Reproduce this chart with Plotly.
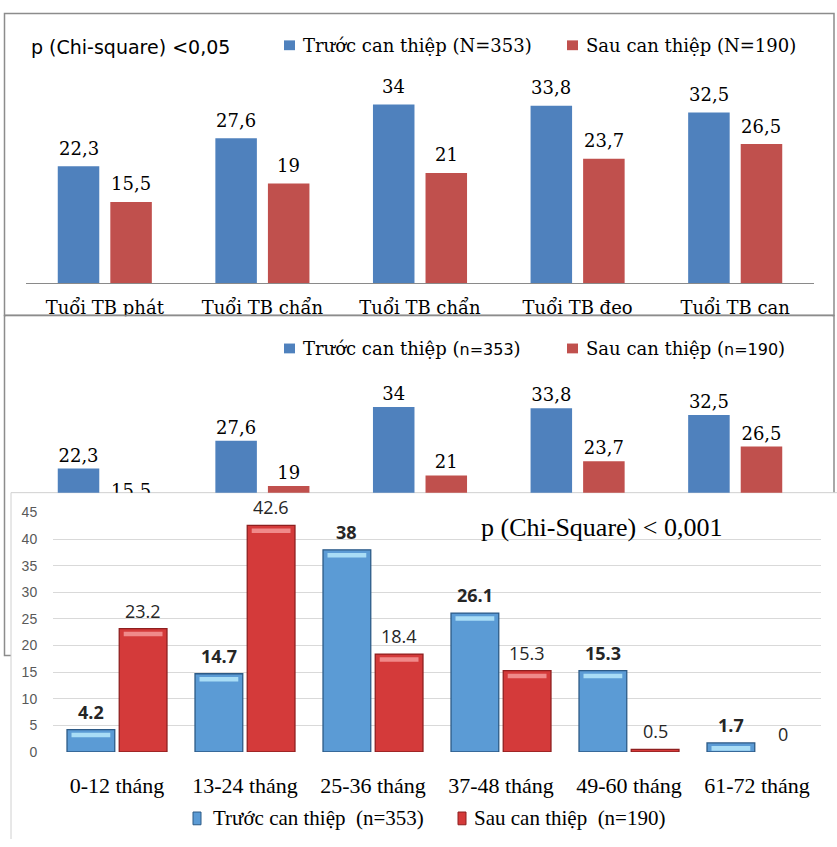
import plotly.graph_objects as go

W, H = 837, 847

# ---- Panels 1 & 2: mean ages (years), before / after the intervention ----
age_labels = ["Tuổi TB phát", "Tuổi TB chẩn", "Tuổi TB chẩn", "Tuổi TB đeo", "Tuổi TB can"]
age_before = [22.3, 27.6, 34.0, 33.8, 32.5]
age_after = [15.5, 19.0, 21.0, 23.7, 26.5]

# ---- Panel 3: distribution by age band (%) ----
band_labels = ["0-12 tháng", "13-24 tháng", "25-36 tháng", "37-48 tháng", "49-60 tháng", "61-72 tháng"]
band_before = [4.2, 14.7, 38.0, 26.1, 15.3, 1.7]
band_after = [23.2, 42.6, 18.4, 15.3, 0.5, 0.0]

BLUE1, RED1 = "#4F81BD", "#C0504D"
BLUE3, RED3 = "#5B9BD5", "#D43A3A"
BLUE3_EDGE, RED3_EDGE = "#2C5A86", "#8E1F1F"
BLUE3_SHINE, RED3_SHINE = "#A9DDF6", "#F08A8A"
SERIF_W = "DejaVu Serif"
SERIF_T = "Liberation Serif"
GRAY = "#8C8C8C"
SHEET_EDGE = "#D0D0D0"

# bar geometry (fraction of one category slot)
BW12, GAP12 = 0.2635, 0.07
BW3, GAP3 = 0.373, 0.035


def px(p):
    return p / W


def py(p):
    return 1 - p / H


def comma(v):
    return f"{v:g}".replace(".", ",")


fig = go.Figure()
annotations = []
shapes = []

pos12 = list(range(len(age_labels)))
pos3 = list(range(len(band_labels)))
off12 = {"b": -(BW12 + GAP12 / 2), "a": GAP12 / 2}
off3 = {"b": -(BW3 + GAP3 / 2), "a": GAP3 / 2}
f_val12 = dict(family=SERIF_W, size=18, color="#000000")

# panel 1 bars with value labels above
for key, vals, col in [("b", age_before, BLUE1), ("a", age_after, RED1)]:
    fig.add_trace(go.Bar(
        x=pos12, y=vals, xaxis="x", yaxis="y", width=BW12, offset=off12[key],
        marker=dict(color=col, line=dict(width=0)),
        showlegend=False, hoverinfo="skip",
    ))
    for i, v in zip(pos12, vals):
        annotations.append(dict(x=i + off12[key] + BW12 / 2, y=v, xref="x", yref="y",
                                text=comma(v), showarrow=False, yanchor="middle",
                                yshift=18, font=f_val12))

# panel 2 bars: value labels are bar text so they clip with the plot area
for key, vals, col in [("b", age_before, BLUE1), ("a", age_after, RED1)]:
    fig.add_trace(go.Bar(
        x=pos12, y=vals, xaxis="x2", yaxis="y2", width=BW12, offset=off12[key],
        marker=dict(color=col, line=dict(width=0)),
        text=[comma(v) for v in vals], textposition="outside",
        textfont=f_val12, cliponaxis=True,
        showlegend=False, hoverinfo="skip",
    ))

# panel 3 bars (with a glossy band near the top of each bar on an overlay axis)
for key, vals, col, edge, shine, wt in [
    ("b", band_before, BLUE3, BLUE3_EDGE, BLUE3_SHINE, "bold"),
    ("a", band_after, RED3, RED3_EDGE, RED3_SHINE, "normal"),
]:
    fig.add_trace(go.Bar(
        x=pos3, y=vals, xaxis="x3", yaxis="y3", width=BW3, offset=off3[key],
        marker=dict(color=col, line=dict(color=edge, width=[1.3 if v > 0 else 0 for v in vals])),
        showlegend=False, hoverinfo="skip",
    ))
    shine_base = [v - 1.45 if v > 1 else None for v in vals]
    shine_h = [0.85 if v > 1 else None for v in vals]
    fig.add_trace(go.Bar(
        x=pos3, y=shine_h, base=shine_base, xaxis="x4", yaxis="y4",
        width=BW3 - 0.07, offset=off3[key] + 0.035,
        marker=dict(color=shine, line=dict(width=0)),
        showlegend=False, hoverinfo="skip",
    ))
    for i, v in zip(pos3, vals):
        annotations.append(dict(x=i + off3[key] + BW3 / 2, y=v, xref="x3", yref="y3",
                                text=f"{v:g}", showarrow=False, yanchor="middle",
                                yshift=18,
                                font=dict(family="Open Sans", size=18, color="#262626",
                                          weight=wt)))

# vertical scale of panels 1/2: 5.36 px per year
s12 = 5.36
p1_zero, p1_top = 280.7, 60
p2_zero, p2_bot, p2_top = 589, 494, 340
p3_dom = [py(758.3), py(514.3)]
p3_x = [px(53), px(821)]

fig.update_layout(
    width=W, height=H, margin=dict(l=0, r=0, t=0, b=0),
    paper_bgcolor="white", plot_bgcolor="rgba(0,0,0,0)",
    barmode="group",
    xaxis=dict(domain=[px(26), px(814)], anchor="y", range=[-0.5, 4.5],
               tickmode="array", tickvals=pos12, ticktext=age_labels,
               tickfont=dict(family=SERIF_W, size=18, color="#000000"),
               ticks="outside", ticklen=8, tickcolor="rgba(0,0,0,0)",
               showline=True, linecolor="#8A8A8A", linewidth=1,
               showgrid=False, zeroline=False, fixedrange=True),
    yaxis=dict(domain=[py(p1_zero), py(p1_top)], anchor="x",
               range=[0, (p1_zero - p1_top) / s12], visible=False, fixedrange=True),
    xaxis2=dict(domain=[px(26), px(814)], anchor="y2", range=[-0.5, 4.5],
                showticklabels=False, showgrid=False, zeroline=False,
                showline=False, ticks="", fixedrange=True),
    yaxis2=dict(domain=[py(p2_bot), py(p2_top)], anchor="x2",
                range=[(p2_zero - p2_bot) / s12, (p2_zero - p2_top) / s12],
                visible=False, fixedrange=True),
    xaxis3=dict(domain=p3_x, anchor="y3", range=[-0.5, 5.5],
                tickmode="array", tickvals=pos3, ticktext=band_labels,
                tickfont=dict(family=SERIF_T, size=22, color="#000000"),
                ticks="outside", ticklen=14, tickcolor="rgba(0,0,0,0)",
                showline=False, showgrid=False, zeroline=False, fixedrange=True),
    yaxis3=dict(domain=p3_dom, anchor="x3", range=[0, 45],
                dtick=5, tick0=0, showgrid=True, gridcolor="#D9D9D9", gridwidth=1,
                zeroline=False, showline=False,
                tickfont=dict(family="Liberation Sans", size=14, color="#595959"),
                ticks="outside", ticklen=12, tickcolor="rgba(0,0,0,0)",
                fixedrange=True),
    xaxis4=dict(domain=p3_x, anchor="y4", overlaying="x3", range=[-0.5, 5.5],
                visible=False, fixedrange=True),
    yaxis4=dict(domain=p3_dom, anchor="x4", overlaying="y3", range=[0, 45],
                visible=False, fixedrange=True),
)

P = dict(xref="paper", yref="paper")
shapes += [
    # panel 1 frame
    dict(type="rect", layer="below", x0=px(4.5), x1=px(834), y0=py(313.5), y1=py(5.5),
         line=dict(color=GRAY, width=1.5), fillcolor="white", **P),
    # panel 2 frame
    dict(type="rect", layer="below", x0=px(4.5), x1=px(834), y0=py(660), y1=py(313.5),
         line=dict(color=GRAY, width=1.5), fillcolor="white", **P),
    # panel 3 sheet, laid over panel 2 and running off the page edges
    dict(type="rect", layer="below", x0=px(11), x1=1, y0=0, y1=py(494),
         line=dict(width=0), fillcolor="white", **P),
    dict(type="line", layer="below", x0=px(11), x1=1, y0=py(494), y1=py(494),
         line=dict(color=SHEET_EDGE, width=1), **P),
    dict(type="line", layer="below", x0=px(11), x1=px(11), y0=0, y1=py(494),
         line=dict(color=SHEET_EDGE, width=1), **P),
    # panel 2 top edge hides the lower part of the panel 1 category labels
    dict(type="rect", layer="above", x0=px(6), x1=px(832), y0=py(322), y1=py(314.2),
         line=dict(width=0), fillcolor="white", **P),
    dict(type="line", layer="above", x0=px(4.5), x1=px(834), y0=py(313.5), y1=py(313.5),
         line=dict(color=GRAY, width=1.5), **P),
]


def legend_item(x_sq, y_c, w, h, color, text, font, x_txt, edge=None):
    shapes.append(dict(type="rect", layer="above", x0=px(x_sq), x1=px(x_sq + w),
                       y0=py(y_c + h / 2), y1=py(y_c - h / 2), fillcolor=color,
                       line=dict(color=edge or color, width=1 if edge else 0), **P))
    annotations.append(dict(x=px(x_txt), y=py(y_c), xanchor="left", yanchor="middle",
                            text=text, showarrow=False, font=font, **P))


# panel 1 header
annotations.append(dict(x=px(29), y=py(39.5), xanchor="left", yanchor="middle",
                        showarrow=False, text="p (Chi-square) <0,05",
                        font=dict(family="DejaVu Sans", size=19, color="#000000"), **P))
f1 = dict(family=SERIF_W, size=18, color="#000000")
legend_item(284, 38, 11, 10, BLUE1, "Trước can thiệp (N=353)", f1, 301)
legend_item(567, 38, 11, 10, RED1, "Sau can thiệp (N=190)", f1, 584)

# panel 2 header
sans_n = "<span style='font-family:DejaVu Sans;font-size:16px'>{}</span>"
legend_item(284, 347, 11, 10, BLUE1, "Trước can thiệp (" + sans_n.format("n=353") + ")", f1, 301)
legend_item(567, 347, 11, 10, RED1, "Sau can thiệp (" + sans_n.format("n=190") + ")", f1, 584)

# panel 3 annotation and legend
annotations.append(dict(x=px(479), y=py(529), xanchor="left", yanchor="middle",
                        showarrow=False, text="p (Chi-Square) < 0,001",
                        font=dict(family=SERIF_T, size=26, color="#000000"), **P))
f3 = dict(family=SERIF_T, size=21, color="#000000")
legend_item(193, 826, 8, 13, BLUE3, "Trước can thiệp  (n=353)", f3, 211, edge=BLUE3_EDGE)
legend_item(458, 826, 8, 13, RED3, "Sau can thiệp  (n=190)", f3, 472, edge=RED3_EDGE)

fig.update_layout(shapes=shapes, annotations=annotations)
fig.write_html("out.html", post_script="document.body.style.margin='0';")
